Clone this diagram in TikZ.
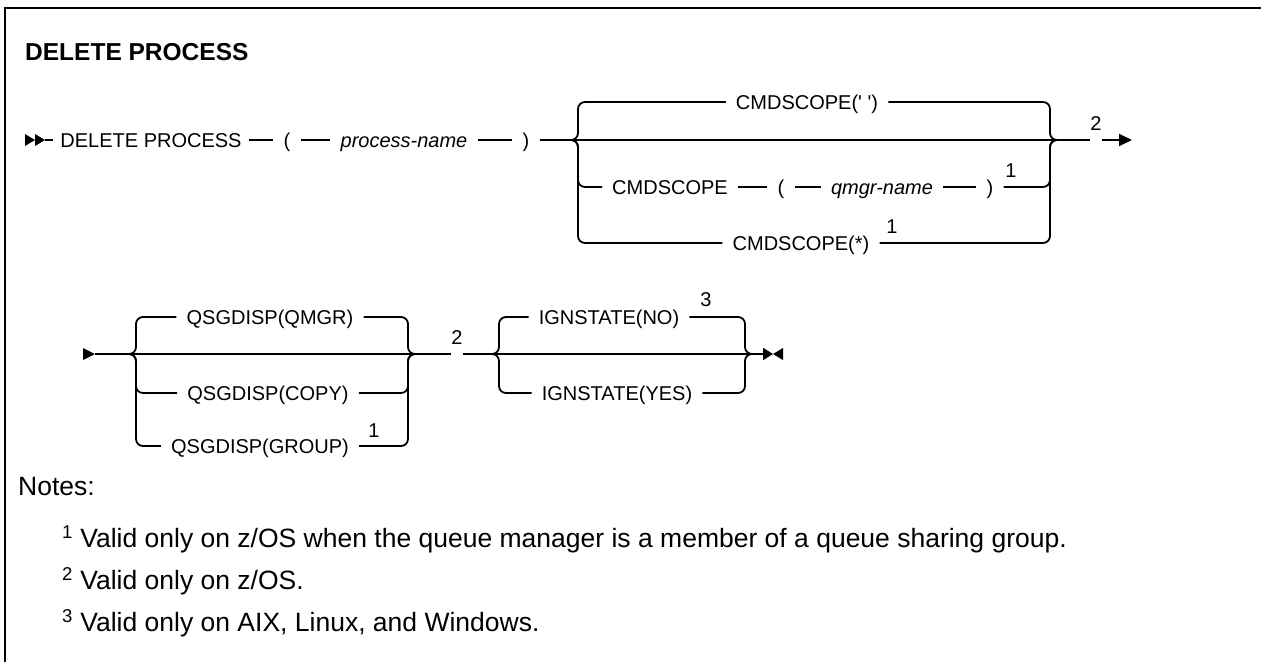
\documentclass[tikz,border=0pt]{standalone}
\usepackage{fontspec}
\setmainfont{Liberation Sans}
\usetikzlibrary{arrows.meta}
\begin{document}
\begin{tikzpicture}[x=1pt, y=-1pt,
    every node/.style={font=\fontsize{20}{24}\selectfont},
    rail/.style={line width=1.8pt, line join=round},
    branch/.style={rail, rounded corners=7pt},
    kw/.style={inner xsep=10pt, inner ysep=0pt, text height=14.3pt, text depth=0pt},
    var/.style={kw, font=\fontsize{20}{24}\selectfont\itshape},
    fn/.style={inner sep=0pt},
    note/.style={anchor=west, inner sep=0pt, font=\fontsize{26.5}{30}\selectfont}
]
\useasboundingbox (0,0) rectangle (1261,662);
\draw[line width=2pt] (1261,8) -- (5,8) -- (5,662);
\node[anchor=west, inner sep=0pt, font=\fontsize{24.5}{28}\selectfont\bfseries]
    (title) at (25,52) {DELETE PROCESS};
% first line
\coordinate (beg1) at (25,140);
\coordinate (beg1e) at (45,140);
\node[kw, inner xsep=7pt] (dp) at (151,140) {DELETE PROCESS};
\node[kw]  (lp1) at (287,140) {(};
\node[var] (pn)  at (404,140) {process-name};
\node[kw]  (rp1) at (526,140) {)};
\coordinate (sA)  at (570,140);
\coordinate (sAo) at (578,140);
\node[kw]  (cs1) at (807,102) {CMDSCOPE(\textquotesingle\ \textquotesingle)};
\node[kw]  (cs2) at (670,187) {CMDSCOPE};
\node[kw]  (lp2) at (781,187) {(};
\node[var] (qn)  at (882,187) {qmgr-name};
\node[kw]  (rp2) at (990,187) {)};
\node[fn]  (fnq) at (1011,171) {1};
\node[kw]  (cs3) at (801,243) {CMDSCOPE(*)};
\node[fn]  (fns) at (892,227) {1};
\coordinate (mAi) at (1050,140);
\coordinate (mA)  at (1058,140);
\node[fn]  (fnA) at (1096,124) {2};
\coordinate (end1) at (1132,140);
\fill (beg1) ++(0,-6) -- ++(10,6) -- ++(-10,6) -- cycle;
\fill (beg1) ++(10,-6) -- ++(10,6) -- ++(-10,6) -- cycle;
\draw[rail] (beg1e) -- (dp.west);
\draw[rail] (dp) -- (lp1);
\draw[rail] (lp1) -- (pn);
\draw[rail] (pn) -- (rp1);
\draw[rail] (rp1) -- (mA);
\draw[branch] (sA) -- (sAo) |- (cs1);
\draw[branch] (cs1) -| (mAi) -- (mA);
\draw[branch] (sA) -- (sAo) |- (cs2);
\draw[rail] (cs2) -- (lp2);
\draw[rail] (lp2) -- (qn);
\draw[rail] (qn) -- (rp2);
\draw[branch] (rp2) -| (mAi) -- (mA);
\draw[branch] (sA) -- (sAo) |- (cs3);
\draw[branch] (cs3) -| (mAi) -- (mA);
\draw[rail] (mA) -- (fnA.west |- mA);
\draw[rail, -{Triangle[length=13pt, width=12pt]}] (fnA.east |- mA) -- (end1);
% second line
\coordinate (beg2)  at (83,354);
\coordinate (beg2e) at (95,354);
\coordinate (sB)  at (128,354);
\coordinate (sBo) at (136,354);
\node[kw] (qs1) at (270,317) {QSGDISP(QMGR)};
\node[kw] (qs2) at (268,393) {QSGDISP(COPY)};
\node[kw] (qs3) at (260,446) {QSGDISP(GROUP)};
\node[fn] (fng) at (374,431) {1};
\coordinate (mBi) at (408,354);
\coordinate (mB)  at (415,354);
\node[fn] (fnB) at (457,338) {2};
\coordinate (sC)  at (491,354);
\coordinate (sCo) at (499,354);
\node[kw] (ig1) at (609,317) {IGNSTATE(NO)};
\node[fn] (fnN) at (706,300) {3};
\node[kw] (ig2) at (617,393) {IGNSTATE(YES)};
\coordinate (mCi) at (745,354);
\coordinate (mC)  at (752,354);
\coordinate (end2) at (773,354);
\fill (beg2) ++(0,-6) -- ++(12,6) -- ++(-12,6) -- cycle;
\draw[rail] (beg2e) -- (mB);
\draw[branch] (sB) -- (sBo) |- (qs1);
\draw[branch] (qs1) -| (mBi) -- (mB);
\draw[branch] (sB) -- (sBo) |- (qs2);
\draw[branch] (qs2) -| (mBi) -- (mB);
\draw[branch] (sB) -- (sBo) |- (qs3);
\draw[branch] (qs3) -| (mBi) -- (mB);
\draw[rail] (mB) -- (fnB.west |- mB);
\draw[rail] (fnB.east |- mB) -- (mC);
\draw[branch] (sC) -- (sCo) |- (ig1);
\draw[branch] (ig1) -| (mCi) -- (mC);
\draw[branch] (sC) -- (sCo) |- (ig2);
\draw[branch] (ig2) -| (mCi) -- (mC);
\draw[rail, -{Triangle[length=10pt, width=12pt]}] (mC) -- (end2);
\fill (end2) -- ++(10,-6) -- ++(0,12) -- cycle;
% notes
\node[note] (notes) at (18,487) {Notes:};
\node[note] (n1) at (62,539)
    {\textsuperscript{1} Valid only on z/OS when the queue manager is a member of a queue sharing group.};
\node[note] (n2) at (62,581) {\textsuperscript{2} Valid only on z/OS.};
\node[note] (n3) at (62,623) {\textsuperscript{3} Valid only on AIX, Linux, and Windows.};
\end{tikzpicture}
\end{document}
